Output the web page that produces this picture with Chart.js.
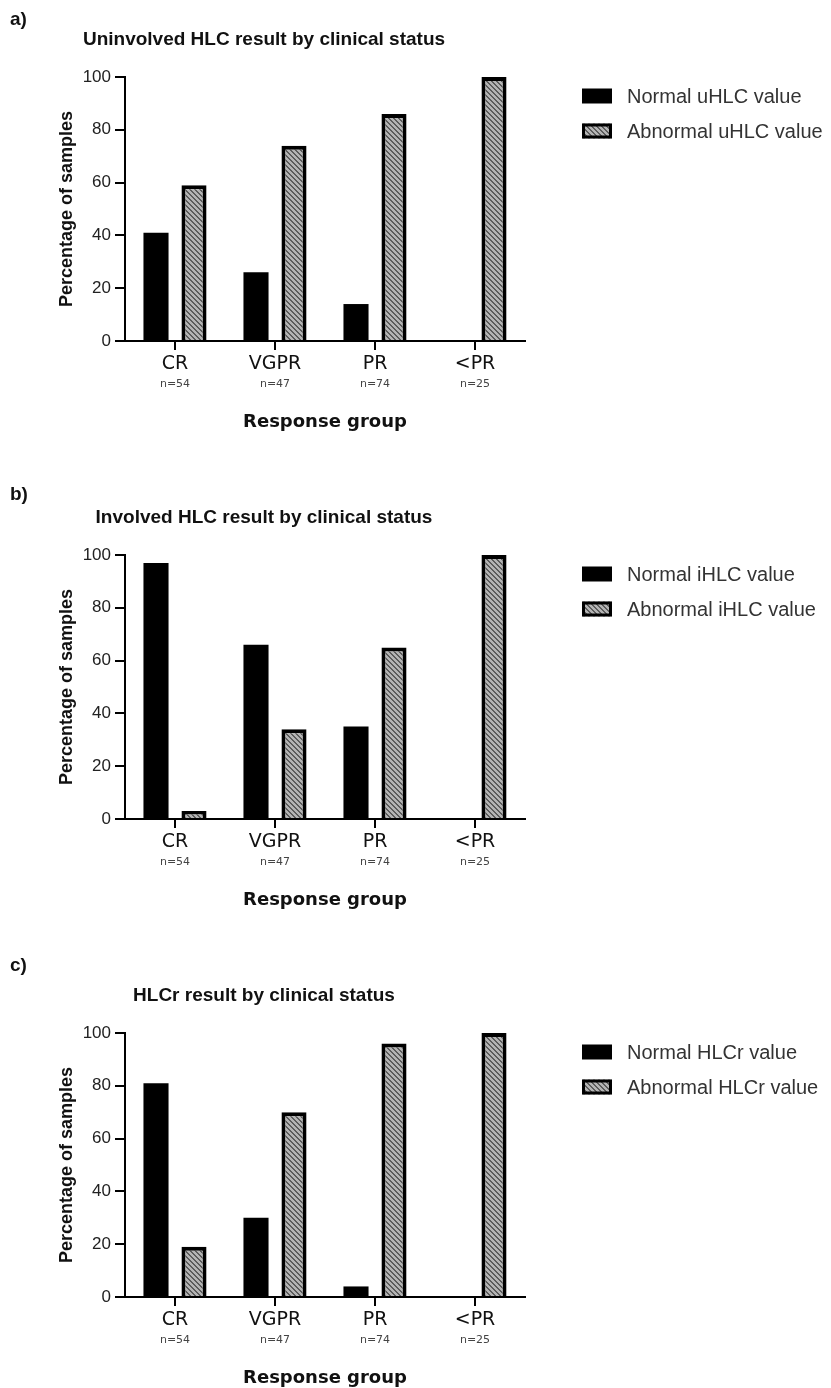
<!DOCTYPE html>
<html>
<head>
<meta charset="utf-8">
<script src="https://cdn.jsdelivr.net/npm/chart.js@4.4.1/dist/chart.umd.min.js"></script>
<style>
  html, body { margin: 0; padding: 0; background: #fff; overflow: hidden; }
  #wrap { position: relative; width: 831px; height: 1388px; overflow: hidden; background: #fff; }
  #wrap canvas { position: absolute; left: 0; }
</style>
</head>
<body>
<div id="wrap">
  <canvas id="panelA" width="831" height="478" style="top:0px"></canvas>
  <canvas id="panelB" width="831" height="478" style="top:478px"></canvas>
  <canvas id="panelC" width="831" height="478" style="top:956px"></canvas>
</div>
<script>
// Response groups and their sample sizes
const categories = ['CR', 'VGPR', 'PR', '<PR'];
const sampleSizes = ['n=54', 'n=47', 'n=74', 'n=25'];

// Percentage axis
const yMin = 0;
const yMax = 100;
const yStep = 20;

// a) uninvolved HLC
const uhlcNormal   = [41, 26, 14, 0];
const uhlcAbnormal = [59, 74, 86, 100];

// b) involved HLC
const ihlcNormal   = [97, 66, 35, 0];
const ihlcAbnormal = [3, 34, 65, 100];

// c) HLC ratio
const hlcrNormal   = [81, 30, 4, 0];
const hlcrAbnormal = [19, 70, 96, 100];

const SANS = '"Liberation Sans", Arial, Helvetica, sans-serif';
const VERD = '"DejaVu Sans", Verdana, sans-serif';

// Grey fill with dark "\" stripes for the abnormal bars
function hatchTile() {
  const s = 5;
  const c = document.createElement('canvas');
  c.width = s; c.height = s;
  const g = c.getContext('2d');
  const img = g.createImageData(s, s);
  for (let y = 0; y < s; y++) {
    for (let x = 0; x < s; x++) {
      const d = ((x - y) % s + s) % s;
      const v = d < 2 ? 0x5c : 0xb4;
      const i = (y * s + x) * 4;
      img.data[i] = img.data[i + 1] = img.data[i + 2] = v;
      img.data[i + 3] = 255;
    }
  }
  g.putImageData(img, 0, 0);
  return c;
}
const tile = hatchTile();

// Panel tag, title and legend drawn on top of each chart
const panelDecor = {
  id: 'panelDecor',
  afterDraw(chart, args, opts) {
    const ctx = chart.ctx;
    ctx.save();
    ctx.textBaseline = 'middle';
    ctx.fillStyle = '#111';
    ctx.font = 'bold 19px ' + SANS;
    ctx.textAlign = 'left';
    ctx.fillText(opts.tag, opts.tagX, opts.tagY);
    ctx.textAlign = 'center';
    ctx.fillText(opts.title, opts.titleX, opts.titleY);

    ctx.textAlign = 'left';
    ctx.font = '20px ' + SANS;
    chart.data.datasets.forEach((ds, i) => {
      const cy = opts.legendY + i * opts.legendGap;
      const bx = opts.legendX, bw = 30, bh = 15, by = cy - bh / 2;
      ctx.fillStyle = ds.backgroundColor;
      ctx.fillRect(bx, by, bw, bh);
      if (ds.borderWidth) {
        const lw = opts.legendBorder;
        ctx.strokeStyle = ds.borderColor;
        ctx.lineWidth = lw;
        ctx.strokeRect(bx + lw / 2, by + lw / 2, bw - lw, bh - lw);
      }
      ctx.fillStyle = '#333';
      ctx.fillText(ds.label, bx + 45, cy + 1);
    });
    ctx.restore();
  }
};

function makePanel(id, tag, tagY, title, normal, abnormal, normalLabel, abnormalLabel) {
  const canvas = document.getElementById(id);
  const ctx = canvas.getContext('2d');
  const pattern = ctx.createPattern(tile, 'repeat');
  return new Chart(ctx, {
    type: 'bar',
    data: {
      labels: categories,
      datasets: [
        { label: normalLabel, data: normal, backgroundColor: '#000', borderColor: '#000',
          borderWidth: 0, xAxisID: 'x', yAxisID: 'y' },
        { label: abnormalLabel, data: abnormal, backgroundColor: pattern, borderColor: '#000',
          borderWidth: 4, xAxisID: 'x', yAxisID: 'y' }
      ]
    },
    options: {
      responsive: false,
      animation: false,
      events: [],
      datasets: { bar: { categoryPercentage: 0.76, barPercentage: 0.66 } },
      layout: { padding: { top: 77, right: 306, left: 0, bottom: 41 } },
      plugins: {
        legend: { display: false },
        tooltip: { enabled: false },
        panelDecor: {
          tag: tag, tagX: 10, tagY: tagY,
          title: title, titleX: 264, titleY: 40,
          legendX: 582, legendY: 96, legendGap: 35, legendBorder: 3
        }
      },
      scales: {
        x: {
          type: 'category', position: 'bottom', offset: true, weight: 0,
          grid: { display: true, drawOnChartArea: false, offset: false, color: '#000',
                  lineWidth: 2, tickLength: 9 },
          border: { display: true, color: '#000', width: 2 },
          ticks: { font: { family: VERD, size: 19 }, color: '#111', padding: 3,
                   autoSkip: false, maxRotation: 0 },
          afterFit: s => { s.height = 36; }
        },
        x2: {
          type: 'category', position: 'bottom', labels: sampleSizes, offset: true, weight: 1,
          grid: { display: false, drawTicks: false },
          border: { display: false },
          ticks: { font: { family: VERD, size: 11 }, color: '#444', padding: 1,
                   autoSkip: false, maxRotation: 0 },
          title: { display: true, text: 'Response group', color: '#111',
                   font: { family: VERD, size: 18, weight: 'bold' }, padding: { top: 0, bottom: 4 } },
          afterFit: s => { s.height = 60; }
        },
        y: {
          type: 'linear', min: yMin, max: yMax,
          ticks: { stepSize: yStep, font: { family: SANS, size: 17 }, color: '#222', padding: 4 },
          grid: { drawOnChartArea: false, color: '#000', lineWidth: 2, tickLength: 10 },
          border: { display: true, color: '#000', width: 2 },
          title: { display: true, text: 'Percentage of samples', color: '#111',
                   font: { family: SANS, size: 18, weight: 'bold' }, padding: { top: 56, bottom: 0 } },
          afterFit: s => { s.width = 125; }
        }
      }
    },
    plugins: [panelDecor]
  });
}

makePanel('panelA', 'a)', 20, 'Uninvolved HLC result by clinical status',
  uhlcNormal, uhlcAbnormal, 'Normal uHLC value', 'Abnormal uHLC value');
makePanel('panelB', 'b)', 17, 'Involved HLC result by clinical status',
  ihlcNormal, ihlcAbnormal, 'Normal iHLC value', 'Abnormal iHLC value');
makePanel('panelC', 'c)', 10, 'HLCr result by clinical status',
  hlcrNormal, hlcrAbnormal, 'Normal HLCr value', 'Abnormal HLCr value');
</script>
</body>
</html>
